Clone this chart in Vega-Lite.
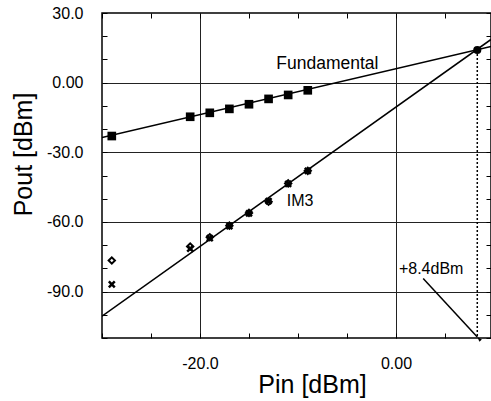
{
  "$schema": "https://vega.github.io/schema/vega-lite/v6.json",
  "autosize": {"type": "none"},
  "width": 389,
  "height": 325,
  "padding": {"left": 102, "top": 13, "right": 0, "bottom": 63},
  "background": "white",
  "config": {
    "view": {"stroke": "black", "strokeWidth": 1.5},
    "font": "Liberation Sans",
    "axis": {"domain": false, "labelFont": "Liberation Sans", "titleFont": "Liberation Sans", "labelColor": "black", "titleColor": "black", "tickColor": "black", "gridColor": "#222", "gridWidth": 1, "titleFontWeight": "normal", "labelOverlap": false, "labelFlush": false, "tickCount": 30}
  },
  "datasets": {
    "lines": [
      {"series": "Fundamental", "pin": -30, "pout": -23.6},
      {"series": "Fundamental", "pin": 9.7, "pout": 15.6},
      {"series": "IM3", "pin": -30, "pout": -100.6},
      {"series": "IM3", "pin": 9.7, "pout": 18.6}
    ],
    "fund": [
      {"pin": -29, "pout": -23.0},
      {"pin": -21, "pout": -14.7},
      {"pin": -19, "pout": -13.0},
      {"pin": -17, "pout": -11.3},
      {"pin": -15, "pout": -9.3},
      {"pin": -13, "pout": -7.0},
      {"pin": -11, "pout": -5.3},
      {"pin": -9, "pout": -3.3}
    ],
    "im3a": [
      {"pin": -29, "pout": -76.6},
      {"pin": -21, "pout": -70.6},
      {"pin": -19, "pout": -66.6},
      {"pin": -17, "pout": -61.6},
      {"pin": -15, "pout": -56.1},
      {"pin": -13, "pout": -51.3},
      {"pin": -11, "pout": -43.4},
      {"pin": -9, "pout": -38.0}
    ],
    "im3b": [
      {"pin": -29, "pout": -86.9},
      {"pin": -21, "pout": -71.5},
      {"pin": -19, "pout": -67.0},
      {"pin": -17, "pout": -61.8},
      {"pin": -15, "pout": -56.3},
      {"pin": -13, "pout": -51.0},
      {"pin": -11, "pout": -43.6},
      {"pin": -9, "pout": -38.0}
    ],
    "ip3": [{"pin": 8.3, "pout": 14.1, "bottom": -110}],
    "arrow": [{"pin": 2.78, "pout": -84.4, "pin2": 8.3, "pout2": -109.6}],
    "lab_fund": [{"text": "Fundamental", "pin": -7.0, "pout": 5.9}],
    "lab_other": [
      {"text": "IM3", "pin": -11.15, "pout": -53.0},
      {"text": "+8.4dBm", "pin": 0.3, "pout": -82.3}
    ]
  },
  "layer": [
    {
      "layer": [
        {
          "data": {"name": "lines"},
          "mark": {"type": "line", "color": "black", "strokeWidth": 1.5, "clip": true},
          "encoding": {
            "x": {"field": "pin", "type": "quantitative", "scale": {"domain": [-30, 9.7], "nice": false, "zero": false},
              "axis": {"orient": "bottom", "title": "Pin [dBm]", "titleFontSize": 25, "titleX": 210, "titleY": 54, "titleBaseline": "alphabetic", "titleAlign": "center", "titleAnchor": null,
                "values": [-30, -25, -20, -15, -10, -5, 0, 5], "tickCount": 30,
                "labelExpr": "datum.value == -20 ? '-20.0' : (datum.value == 0 ? '0.00' : '')",
                "labelFontSize": 16, "labelPadding": 22, "tickSize": -5, "tickWidth": 1,
                "grid": true, "gridOpacity": {"condition": {"test": "datum.value == -20 || datum.value == 0", "value": 1}, "value": 0}}},
            "y": {"field": "pout", "type": "quantitative", "scale": {"domain": [-110, 30], "nice": false, "zero": false},
              "axis": {"orient": "left", "title": "Pout [dBm]", "titleFontSize": 25, "titleX": -71, "titleY": 141, "titleBaseline": "alphabetic", "titleAlign": "center", "titleAnchor": null, "titleAngle": -90,
                "values": [-110, -100, -90, -80, -70, -60, -50, -40, -30, -20, -10, 0, 10, 20, 30], "tickCount": 30,
                "labelExpr": "datum.value == 30 ? '30.0' : (datum.value == 0 ? '0.00' : (datum.value == -30 ? '-30.0' : (datum.value == -60 ? '-60.0' : (datum.value == -90 ? '-90.0' : ''))))",
                "labelFontSize": 16, "labelPadding": 24, "tickSize": -5, "tickWidth": 1,
                "grid": true, "gridOpacity": {"condition": {"test": "datum.value == 0 || datum.value == -30 || datum.value == -60 || datum.value == -90", "value": 1}, "value": 0}}},
            "detail": {"field": "series"}
          }
        },
        {
          "data": {"name": "fund"},
          "mark": {"type": "point", "shape": "square", "filled": true, "color": "black", "size": 75, "opacity": 1},
          "encoding": {"x": {"field": "pin", "type": "quantitative"}, "y": {"field": "pout", "type": "quantitative"}}
        },
        {
          "data": {"name": "im3a"},
          "mark": {"type": "point", "shape": "diamond", "filled": false, "color": "black", "strokeWidth": 2, "size": 40, "opacity": 1},
          "encoding": {"x": {"field": "pin", "type": "quantitative"}, "y": {"field": "pout", "type": "quantitative"}}
        },
        {
          "data": {"name": "im3b"},
          "mark": {"type": "point", "shape": "M-1,-1L1,1M1,-1L-1,1", "filled": false, "color": "black", "strokeWidth": 2.5, "size": 35, "opacity": 1},
          "encoding": {"x": {"field": "pin", "type": "quantitative"}, "y": {"field": "pout", "type": "quantitative"}}
        },
        {
          "data": {"name": "ip3"},
          "mark": {"type": "rule", "color": "black", "strokeWidth": 1.5, "strokeDash": [2, 2]},
          "encoding": {"x": {"field": "pin", "type": "quantitative"}, "y": {"field": "pout", "type": "quantitative"}, "y2": {"field": "bottom"}}
        },
        {
          "data": {"name": "ip3"},
          "mark": {"type": "point", "shape": "circle", "filled": true, "color": "black", "size": 65, "opacity": 1},
          "encoding": {"x": {"field": "pin", "type": "quantitative"}, "y": {"field": "pout", "type": "quantitative"}}
        },
        {
          "data": {"name": "arrow"},
          "mark": {"type": "rule", "color": "black", "strokeWidth": 1.5},
          "encoding": {"x": {"field": "pin", "type": "quantitative"}, "y": {"field": "pout", "type": "quantitative"}, "x2": {"field": "pin2"}, "y2": {"field": "pout2"}}
        },
        {
          "data": {"name": "arrow"},
          "mark": {"type": "point", "shape": "M0,0L-0.6,-1.8L0.6,-1.8Z", "filled": true, "color": "black", "size": 30, "angle": 137, "opacity": 1},
          "encoding": {"x": {"field": "pin2", "type": "quantitative"}, "y": {"field": "pout2", "type": "quantitative"}}
        },
        {
          "data": {"name": "lab_fund"},
          "mark": {"type": "text", "color": "black", "font": "Liberation Sans", "baseline": "alphabetic", "align": "center", "fontSize": 17.5},
          "encoding": {
            "x": {"field": "pin", "type": "quantitative"},
            "y": {"field": "pout", "type": "quantitative"},
            "text": {"field": "text"}
          }
        },
        {
          "data": {"name": "lab_other"},
          "mark": {"type": "text", "color": "black", "font": "Liberation Sans", "baseline": "alphabetic", "align": "left", "fontSize": 16},
          "encoding": {
            "x": {"field": "pin", "type": "quantitative"},
            "y": {"field": "pout", "type": "quantitative"},
            "text": {"field": "text"}
          }
        }
      ]
    },
    {
      "data": {"name": "ip3"},
      "mark": {"type": "point", "opacity": 0},
      "encoding": {
        "x": {"field": "pin", "type": "quantitative", "axis": {"orient": "top", "title": null, "labels": false, "grid": false, "values": [-30, -25, -20, -15, -10, -5, 0, 5], "tickCount": 30, "tickSize": -5}},
        "y": {"field": "pout", "type": "quantitative", "axis": {"orient": "right", "title": null, "labels": false, "grid": false, "values": [-110, -100, -90, -80, -70, -60, -50, -40, -30, -20, -10, 0, 10, 20, 30], "tickCount": 30, "tickSize": -5}}
      }
    }
  ],
  "resolve": {"axis": {"x": "independent", "y": "independent"}}
}
